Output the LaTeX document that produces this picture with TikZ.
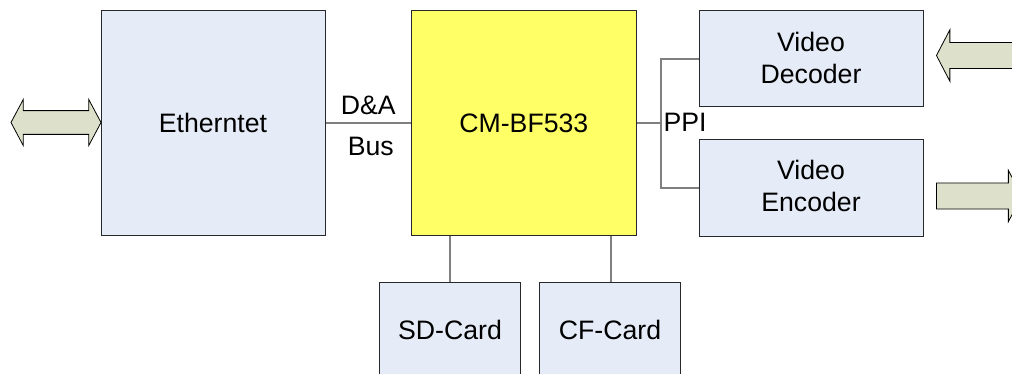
\documentclass[tikz,border=0pt]{standalone}
\usepackage{fontspec}
\setmainfont{Liberation Sans}
\usetikzlibrary{positioning,shapes.arrows}

\definecolor{boxblue}{HTML}{E6ECF7}
\definecolor{coreyellow}{HTML}{FFFF66}
\definecolor{arrowgreen}{HTML}{DDE1CB}
\definecolor{linegray}{HTML}{7F7F7F}
\definecolor{edgegray}{HTML}{26282C}

\tikzset{
    block/.style={draw=edgegray, fill=boxblue, line width=0.75pt, inner sep=0pt, align=center,
        font=\fontsize{20}{24}\selectfont},
    link/.style={draw=linegray, line width=0.9pt},
    tag/.style={inner sep=0pt, font=\fontsize{20}{24}\selectfont},
    bigarrow/.style={draw=black, fill=arrowgreen, line width=0.6pt, inner xsep=0pt, inner ysep=9.5pt,
        single arrow, single arrow head extend=9.5pt, single arrow tip angle=125},
    bothways/.style={draw=black, fill=arrowgreen, line width=0.6pt, inner xsep=0pt, inner ysep=8.6pt,
        double arrow, double arrow head extend=8.4pt, double arrow tip angle=124, minimum height=67.5pt}
}

\begin{document}
\begin{tikzpicture}[x=0.75pt, y=-0.75pt]
\clip (0,0) rectangle (1012,374);
\useasboundingbox (0,0) rectangle (1012,374);

%Nodes
\node[block, minimum width=168pt, minimum height=168pt]     (Eth)   at (213,123)    {Etherntet};
\node[block, minimum width=168.75pt, minimum height=168pt, fill=coreyellow]  (CM)    [right=64pt of Eth]   {CM-BF533};
\node[block, minimum width=168pt, minimum height=72pt]      (Dec)   at (811,59)     {Video\\Decoder\\[-22.5pt]};
\node[block, minimum width=168pt, minimum height=72pt]      (Enc)   [below=24pt of Dec]     {Video\\Encoder\\[-21pt]};
\node[block, minimum width=106pt, minimum height=72pt]      (SD)    at (450,330)    {SD-Card};
\node[block, minimum width=106pt, minimum height=72pt]      (CF)    [right=13.25pt of SD]    {CF-Card};

\node[bothways]                     (EthArrow)  at (56,122.5)   {};
\node[bigarrow, minimum height=75pt, shape border rotate=180, anchor=tip]    (DecArrow)  at (936,55.5)   {};
\node[bigarrow, minimum height=64pt, anchor=tail]   (EncArrow)  at (936,196)    {};

\coordinate (PPIjoin) at (661,123);

%Lines
\draw[link]   (Eth.east) -- (CM.west)
    node[tag, midway, above=5.5pt]{D\&A}
    node[tag, midway, below=10pt, xshift=2pt]{Bus};

\draw[link]   (CM.east) -- (PPIjoin)
    node[tag, anchor=west, xshift=1.5pt, yshift=0.75pt]{PPI};

\draw[link]   (Dec.west) -| (PPIjoin);
\draw[link]   (Enc.west) -| (PPIjoin);

\draw[link]   (SD.north) -- (SD.north |- CM.south);
\draw[link]   ([xshift=0.75pt]CF.north) -- ([xshift=0.75pt]CF.north |- CM.south);
\end{tikzpicture}
\end{document}
